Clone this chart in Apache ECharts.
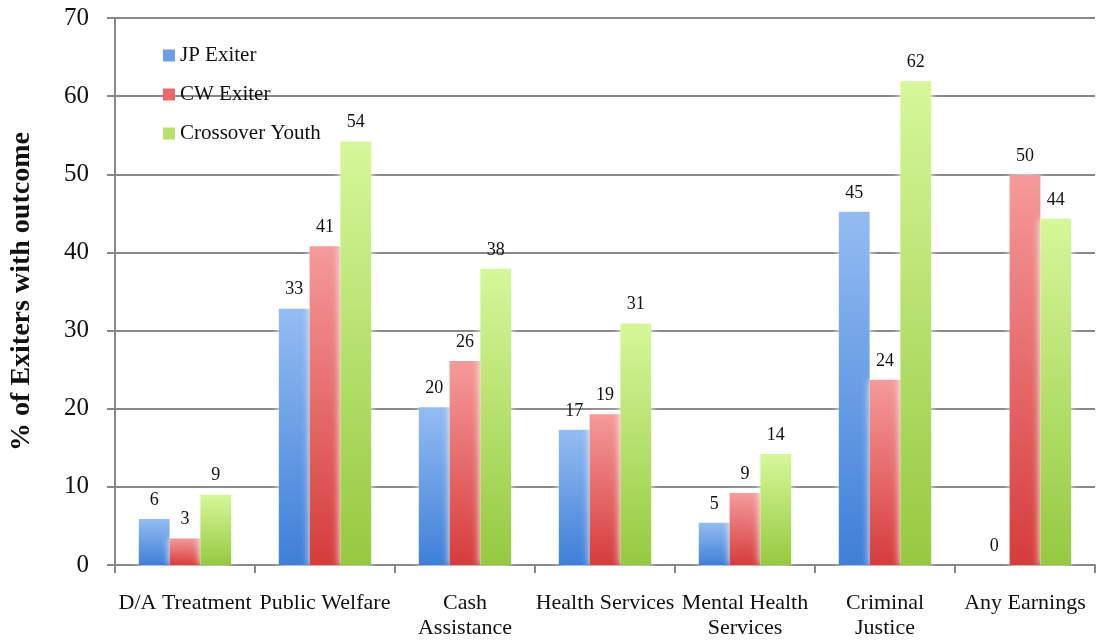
<!DOCTYPE html>
<html><head><meta charset="utf-8">
<script src="https://cdn.jsdelivr.net/npm/echarts@6/dist/echarts.min.js"></script>
<style>html,body{margin:0;padding:0;background:#fff}#c{width:1096px;height:641px}</style>
</head><body><div id="c"></div>
<script>
const categories = ['D/A Treatment','Public Welfare','Cash\nAssistance','Health Services','Mental Health\nServices','Criminal\nJustice','Any Earnings'];
const seriesNames = ['JP Exiter','CW Exiter','Crossover Youth'];
const jpExiter = [5.9, 32.8, 20.2, 17.3, 5.4, 45.2, 0];
const cwExiter = [3.4, 40.8, 26.1, 19.3, 9.2, 23.7, 49.9];
const crossoverYouth = [9.0, 54.2, 37.9, 30.9, 14.2, 61.9, 44.3];
const yTicks = [0,10,20,30,40,50,60,70];

const FONT = 'Liberation Serif';
function grad(top, bottom){
  return new echarts.graphic.LinearGradient(0,0,0,1,[{offset:0,color:top},{offset:1,color:bottom}]);
}
const colors = [grad('#94bcf2','#3f7fd8'), grad('#f59a9a','#d63c3c'), grad('#d6f79a','#96c940')];
const legendColors = ['#6a9fe6','#e86a6a','#b8e270'];
const data = [jpExiter, cwExiter, crossoverYouth];

const chart = echarts.init(document.getElementById('c'));
chart.setOption({
  animation:false,
  textStyle:{fontFamily:FONT},
  grid:{left:111,right:1,top:18,bottom:75,containLabel:false},
  legend:{
    orient:'vertical', left:158, top:40, itemGap:18, itemWidth:12, itemHeight:12,
    icon:'rect',
    textStyle:{fontFamily:FONT,fontSize:21,color:'#111',padding:[0,0,0,0]},
    data:seriesNames.map((n,i)=>({name:n,itemStyle:{color:legendColors[i]}}))
  },
  xAxis:{
    type:'category', data:categories,
    axisLine:{lineStyle:{color:'#888',width:2}},
    axisTick:{show:true,alignWithLabel:false,length:8,lineStyle:{color:'#888',width:2}},
    axisLabel:{fontFamily:FONT,fontSize:22,color:'#111',margin:26,lineHeight:25,interval:0}
  },
  yAxis:{
    type:'value', min:0, max:70, interval:10,
    name:'% of Exiters with outcome', nameLocation:'middle', nameGap:79,
    nameTextStyle:{fontFamily:FONT,fontSize:28,fontWeight:'bold',color:'#111'},
    axisLine:{show:true,lineStyle:{color:'#888',width:2}},
    axisTick:{show:true,length:8,lineStyle:{color:'#888',width:2}},
    axisLabel:{fontFamily:FONT,fontSize:25,color:'#111',margin:26,
      formatter:v=>yTicks.includes(v)?String(v):''},
    splitLine:{show:true,lineStyle:{color:'#888',width:2}}
  },
  series: seriesNames.map((n,i)=>({
    name:n, type:'bar', data:data[i],
    barGap:'0%', barCategoryGap:'34%',
    itemStyle:{color:colors[i],shadowColor:'rgba(255,255,255,1)',shadowBlur:8},
    label:{show:true,position:'top',distance:10,fontFamily:FONT,fontSize:18,color:'#111',
      formatter:p=>String(Math.round(p.value))}
  }))
});
</script></body></html>
